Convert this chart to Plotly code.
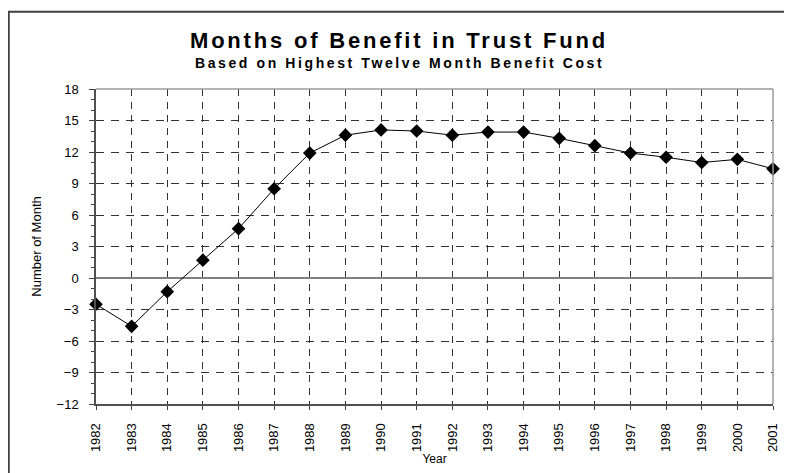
import plotly.graph_objects as go

years = [1982, 1983, 1984, 1985, 1986, 1987, 1988, 1989, 1990, 1991,
         1992, 1993, 1994, 1995, 1996, 1997, 1998, 1999, 2000, 2001]
months = [-2.5, -4.6, -1.3, 1.7, 4.7, 8.5, 11.9, 13.6, 14.1, 14.0,
          13.6, 13.9, 13.9, 13.3, 12.6, 11.9, 11.5, 11.0, 11.3, 10.4]
y_ticks = [-12, -9, -6, -3, 0, 3, 6, 9, 12, 15, 18]
title_text = "Months of Benefit in Trust Fund"
subtitle_text = "Based on Highest Twelve Month Benefit Cost"
x_title = "Year"
y_title = "Number of Month"

# the page body has an 8px margin, so the figure is 784x465
W, H = 784, 465
L, T = 88, 81
pw, ph = 679, 324
R = W - L - pw
B = H - T - ph

FONT = "Liberation Sans, Arial, sans-serif"


def px_x(p):
    return (p - L) / pw


def px_y(p):
    return (T + ph - p) / ph


fig = go.Figure()
fig.add_trace(go.Scatter(
    x=years, y=months, mode="lines+markers",
    line=dict(color="black", width=1),
    marker=dict(symbol="diamond", size=10.5, color="black"),
    cliponaxis=False, showlegend=False,
))

shapes = [
    # outer chart frame
    dict(type="rect", xref="paper", yref="paper",
         x0=px_x(0.5), x1=px_x(900), y0=px_y(1.5), y1=px_y(600),
         line=dict(color="#404040", width=2), layer="below"),
    # plot area border top/right
    dict(type="line", xref="paper", yref="paper", x0=0, x1=1, y0=1, y1=1,
         line=dict(color="#9a9a9a", width=1.5)),
    dict(type="line", xref="paper", yref="paper", x0=1, x1=1, y0=0, y1=1,
         line=dict(color="#9a9a9a", width=1.5)),
]

fig.update_layout(
    width=W, height=H,
    margin=dict(l=L, r=R, t=T, b=B, pad=0),
    paper_bgcolor="white", plot_bgcolor="white",
    font=dict(family=FONT, color="black", size=13),
    shapes=shapes,
    annotations=[
        dict(text="<b><span style='letter-spacing:2.8px'>" + title_text + "</span></b>",
             xref="paper", yref="paper",
             x=px_x(392), y=px_y(31), xanchor="center", yanchor="middle",
             showarrow=False, font=dict(size=22, family=FONT)),
        dict(text="<b><span style='letter-spacing:2.6px'>" + subtitle_text + "</span></b>",
             xref="paper", yref="paper",
             x=px_x(392), y=px_y(54), xanchor="center", yanchor="middle",
             showarrow=False, font=dict(size=14, family=FONT)),
    ],
    xaxis=dict(
        range=[years[0], years[-1]],
        tickmode="array", tickvals=years, ticktext=[str(y) for y in years],
        tickangle=-90, tickfont=dict(size=13),
        ticks="outside", ticklen=4, tickcolor="#404040",
        ticklabelstandoff=8,
        showline=True, linecolor="#505050", linewidth=2,
        showgrid=True, gridcolor="#333333", gridwidth=1, griddash="7px,6px",
        zeroline=False,
        title=dict(text=x_title, font=dict(size=12), standoff=0),
    ),
    yaxis=dict(
        range=[y_ticks[0], y_ticks[-1]],
        tickmode="array", tickvals=y_ticks,
        tickfont=dict(size=13),
        ticks="outside", ticklen=5, tickcolor="#404040",
        ticklabelstandoff=8,
        minor=dict(ticks="outside", ticklen=3, dtick=1, tickcolor="#404040", showgrid=False),
        showline=True, linecolor="#505050", linewidth=1.5,
        showgrid=True, gridcolor="#333333", gridwidth=1, griddash="8px,7px",
        zeroline=True, zerolinecolor="#808080", zerolinewidth=1.5,
        title=dict(text=y_title, font=dict(size=13), standoff=12),
    ),
)

fig.write_html("out.html")
